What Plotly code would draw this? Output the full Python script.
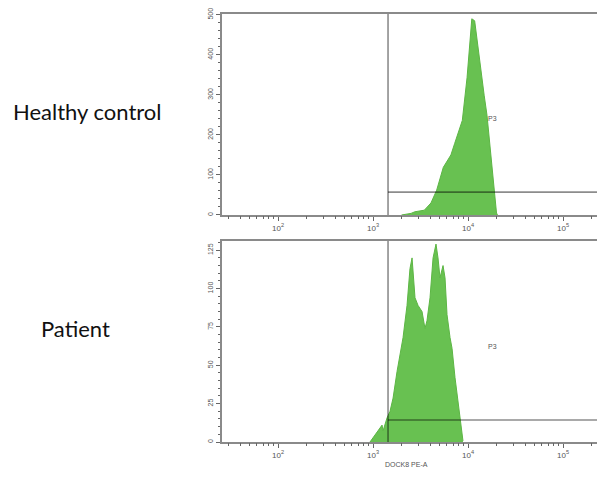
import plotly.graph_objects as go

# ---- data (log10 of DOCK8 PE-A intensity, event counts) ----
control_log = [3.30, 3.40, 3.44, 3.54, 3.61, 3.67, 3.74, 3.79, 3.82, 3.86, 3.94, 3.99, 4.02, 4.04,
               4.07, 4.105, 4.14, 4.17, 4.20, 4.23, 4.26, 4.28, 4.30, 4.31]
control_cnt = [0, 4, 8, 12, 30, 62, 119, 137, 150, 179, 236, 343, 443, 490,
               485, 415, 355, 299, 249, 179, 112, 50, 5, 0]

patient_log = [2.968, 3.021, 3.053, 3.095, 3.105, 3.147, 3.179, 3.211, 3.253, 3.284, 3.316, 3.358,
               3.389, 3.411, 3.421, 3.442, 3.474, 3.516, 3.547, 3.568, 3.600, 3.632, 3.663, 3.684,
               3.705, 3.737, 3.758, 3.779, 3.811, 3.832, 3.863, 3.884, 3.916, 3.947]
patient_cnt = [0, 4.6, 7.8, 11, 7.2, 15.6, 20, 28.6, 46, 57, 68, 89,
               113, 120, 111, 94, 89, 85, 74, 79, 94, 120, 129, 120,
               107, 115, 107, 83, 68, 61, 42, 31, 16, 0.7]

gate_log = 3.158
gate_height_control = 57
gate_height_patient = 14.3
p3_control = (4.263, 241)
p3_patient = (4.263, 62)

row_labels = ["Healthy control", "Patient"]
decade_vals = [100, 1000, 10000, 100000]
decade_text = ["10<sup>2</sup>", "10<sup>3</sup>", "10<sup>4</sup>", "10<sup>5</sup>"]
y_ticks_control = [0, 100, 200, 300, 400, 500]
y_ticks_patient = [0, 25, 50, 75, 100, 125]
x_title = "DOCK8 PE-A"

# ---- styling ----
GREEN_FILL = "rgba(96,190,72,0.95)"
GREEN_LINE = "rgb(92,182,68)"
FRAME = "#8a8a8a"
GATE = "rgba(0,0,0,0.45)"
TICKC = "#666"

# minor x ticks (non-decade multiples)
minor_vals = []
for d in [10, 100, 1000, 10000, 100000]:
    for m in range(2, 10):
        v = d * m
        if 25 <= v <= 230000:
            minor_vals.append(v)

fig = go.Figure()
fig.add_trace(go.Scatter(x=[10 ** v for v in control_log], y=control_cnt, mode="lines",
                         fill="tozeroy", fillcolor=GREEN_FILL, line=dict(color=GREEN_LINE, width=1),
                         xaxis="x", yaxis="y", showlegend=False, hoverinfo="skip"))
fig.add_trace(go.Scatter(x=[10 ** v for v in patient_log], y=patient_cnt, mode="lines",
                         fill="tozeroy", fillcolor=GREEN_FILL, line=dict(color=GREEN_LINE, width=1),
                         xaxis="x2", yaxis="y2", showlegend=False, hoverinfo="skip"))
# empty traces so the minor-tick overlay axes are drawn
fig.add_trace(go.Scatter(x=[], y=[], xaxis="x3", yaxis="y", showlegend=False, hoverinfo="skip"))
fig.add_trace(go.Scatter(x=[], y=[], xaxis="x4", yaxis="y2", showlegend=False, hoverinfo="skip"))

xrange = [1.41, 5.358]
xcommon = dict(type="log", range=xrange, showline=True, mirror=True, linecolor=FRAME, linewidth=2,
               tickvals=decade_vals, ticktext=decade_text, ticks="outside", ticklen=4, tickwidth=1,
               tickcolor=TICKC, tickfont=dict(size=8, color="#555", family="Liberation Sans"),
               showgrid=False, zeroline=False, fixedrange=True)
xminor = dict(type="log", range=xrange, showline=False, tickvals=minor_vals, ticks="outside", ticklen=3,
              tickwidth=1, tickcolor=TICKC, showticklabels=False, showgrid=False, zeroline=False,
              fixedrange=True)
ycommon = dict(showline=True, linecolor=FRAME, linewidth=2, ticks="outside", ticklen=4,
               tickcolor=TICKC, tickangle=-90, tickfont=dict(size=7, color="#555", family="Liberation Sans"),
               showgrid=False, zeroline=False, fixedrange=True)

fig.update_layout(
    width=597, height=477,
    margin=dict(l=222, r=0, t=14, b=35),
    plot_bgcolor="white", paper_bgcolor="white",
    xaxis=dict(**xcommon, domain=[0, 1], anchor="y"),
    xaxis2=dict(**xcommon, domain=[0, 1], anchor="y2"),
    xaxis3=dict(**xminor, domain=[0, 1], anchor="y", overlaying="x"),
    xaxis4=dict(**xminor, domain=[0, 1], anchor="y2", overlaying="x2"),
    yaxis=dict(**ycommon, domain=[0.5304, 1], range=[0, 502], anchor="x", tickvals=y_ticks_control,
               minor=dict(dtick=20, ticks="outside", ticklen=2, tickcolor=TICKC)),
    yaxis2=dict(**ycommon, domain=[0, 0.4696], range=[0, 131], anchor="x2", tickvals=y_ticks_patient,
                minor=dict(dtick=5, ticks="outside", ticklen=2, tickcolor=TICKC)),
)

# gate lines
for xa, ya, h in [("x", "y", gate_height_control), ("x2", "y2", gate_height_patient)]:
    fig.add_shape(type="line", xref=xa, yref=ya + " domain", x0=10 ** gate_log, x1=10 ** gate_log,
                  y0=0, y1=1, line=dict(color=GATE, width=1.6), layer="above")
    fig.add_shape(type="line", xref=xa + " domain", yref=ya, x0=(gate_log - xrange[0]) / (xrange[1] - xrange[0]),
                  x1=1, y0=h, y1=h, line=dict(color=GATE, width=1.6), layer="above")

# P3 labels (x given in log10 units for log axes)
for xa, ya, (lx, ly) in [("x", "y", p3_control), ("x2", "y2", p3_patient)]:
    fig.add_annotation(x=lx, y=ly, xref=xa, yref=ya, text="P3", showarrow=False,
                       font=dict(size=7, color="#555", family="Liberation Sans"))

# row labels
fig.add_annotation(x=-0.36, y=0.773, xref="paper", yref="paper", text=row_labels[0], showarrow=False,
                   xanchor="center", yanchor="middle", font=dict(size=22, color="#111", family="Lato"))
fig.add_annotation(x=-0.392, y=0.266, xref="paper", yref="paper", text=row_labels[1], showarrow=False,
                   xanchor="center", yanchor="middle", font=dict(size=22, color="#111", family="Lato"))

# x-axis title
fig.add_annotation(x=3.35, y=-0.065, xref="x2", yref="paper", text=x_title, showarrow=False,
                   font=dict(size=7, color="#555", family="Liberation Sans"))

fig.write_html("out.html", config={"displayModeBar": False},
               post_script="document.body.style.margin='0';document.body.style.overflow='hidden';")
